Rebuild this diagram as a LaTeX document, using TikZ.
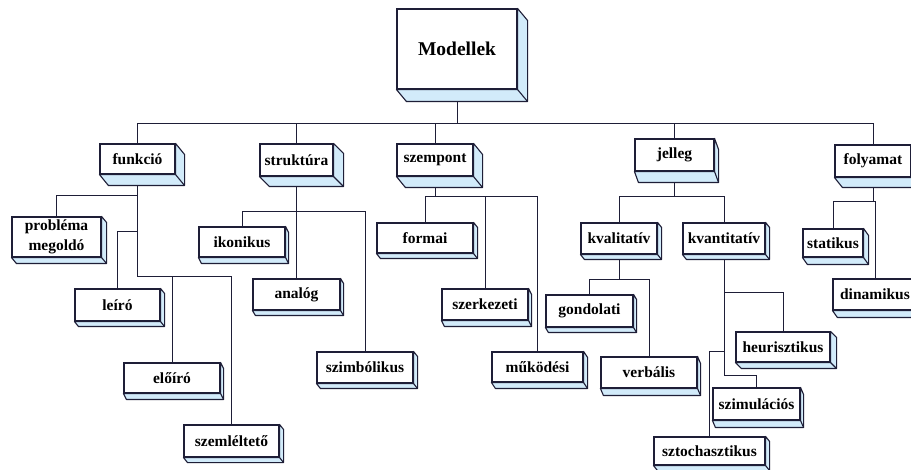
\documentclass[tikz,border=0pt]{standalone}
\usepackage{fontspec}
\setmainfont{Liberation Serif}
\usetikzlibrary{calc}
\pgfdeclarelayer{paper}
\pgfdeclarelayer{background}
\pgfsetlayers{paper,background,main}
\definecolor{edgec}{RGB}{30,30,55}
\definecolor{sidec}{RGB}{210,235,250}
\tikzset{
  box/.style={draw=edgec, line width=1.1pt, fill=white, inner sep=0pt, text=black,
    font=\bfseries\fontsize{15.5}{20}\selectfont, align=center},
  face/.style={fill=sidec, draw=edgec, line width=1.1pt, line join=round},
  link/.style={draw=edgec, line width=1pt}
}
% name, x1, y1, x2, y2, dx, dy, text
\newcommand\bx[8]{%
  \pgfmathsetmacro\bxw{#4-#2}%
  \pgfmathsetmacro\bxh{#5-#3}%
  \pgfmathsetmacro\bxcx{(#2+#4)/2}%
  \pgfmathsetmacro\bxcy{(#3+#5)/2}%
  \node[box, minimum width=\bxw pt, minimum height=\bxh pt] (#1) at (\bxcx,\bxcy) {#8};
  \filldraw[face] (#1.south west) -- ($(#1.south west)+(#6,#7)$) -- ($(#1.south east)+(#6,#7)$)
    -- ($(#1.north east)+(#6,#7)$) -- (#1.north east) -- (#1.south east) -- cycle;
  \draw[face, fill=none] (#1.south east) -- +(#6,#7);
}
\begin{document}
\begin{tikzpicture}[x=1pt, y=-1pt]
\useasboundingbox (0,0) rectangle (911,470);
\clip (0,0) rectangle (911,470);
\begin{pgfonlayer}{paper}
\fill[white] (0,0) rectangle (911,470);
\end{pgfonlayer}

\bx{M}{397}{9}{517}{89}{10}{12}{\fontsize{19.5}{22}\selectfont Modellek}
\bx{funk}{100}{144}{175}{174}{9}{11}{funkció}
\bx{struk}{260}{144}{333}{176}{10}{10}{struktúra}
\bx{szemp}{397}{144}{473}{176}{9}{11}{szempont}
\bx{jelleg}{635}{139}{714}{171}{4}{11}{jelleg}
\bx{foly}{835}{145}{911}{177}{8}{10}{folyamat}

\bx{prob}{12}{217}{101}{257}{5}{6}{probléma\\megoldó}
\bx{leiro}{75}{289}{160}{321}{4}{5}{leíró}
\bx{elo}{124}{363}{220}{393}{3}{6}{előíró}
\bx{szeml}{184}{425}{279}{457}{4}{5}{szemléltető}

\bx{ikon}{199}{227}{285}{257}{3}{6}{ikonikus}
\bx{anal}{253}{279}{340}{310}{3}{5}{analóg}
\bx{szimb}{317}{352}{413}{383}{4}{5}{szimbólikus}

\bx{formai}{377}{223}{473}{253}{4}{5}{formai}
\bx{szerk}{442}{289}{528}{320}{3}{6}{szerkezeti}
\bx{muk}{492}{352}{583}{382}{4}{6}{működési}

\bx{kval}{581}{223}{657}{254}{4}{5}{kvalitatív}
\bx{kvant}{683}{223}{765}{254}{4}{5}{kvantitatív}
\bx{gond}{546}{295}{633}{327}{3}{5}{gondolati}
\bx{verb}{601}{357}{697}{388}{3}{7}{verbális}
\bx{heur}{736}{332}{830}{362}{6}{6}{heurisztikus}
\bx{szimul}{713}{388}{800}{420}{3}{7}{szimulációs}
\bx{sztoch}{654}{437}{765}{465}{4}{5}{sztochasztikus}

\bx{stat}{803}{229}{863}{257}{5}{7}{statikus}
\bx{dinam}{833}{279}{917}{310}{5}{7}{dinamikus}

\coordinate (j0) at (M.south |- 0,124);
\coordinate (jf1) at (funk.south |- 0,196);
\coordinate (jf2) at (funk.south |- 0,232);
\coordinate (jf3) at (funk.south |- 0,277);
\coordinate (js) at (struk.south |- 0,212);
\coordinate (jz) at (szemp.south |- 0,197);
\coordinate (jj) at (jelleg.south |- 0,197);
\coordinate (jk) at (kval.south |- 0,280);
\coordinate (jq1) at (kvant.south |- 0,293);
\coordinate (jq2) at (kvant.south |- 0,352);
\coordinate (jq3) at (kvant.south |- 0,376);
\coordinate (jy) at (foly.south |- 0,202);

\begin{pgfonlayer}{background}
\draw[link] (M.south) -- (j0);
\foreach \n in {funk,struk,szemp,jelleg,foly} \draw[link] (\n.north) |- (j0);
\draw[link] (funk.south) -- (jf3);
\draw[link] (prob.north) |- (jf1);
\draw[link] (leiro.north) |- (jf2);
\draw[link] (elo.north) |- (jf3);
\draw[link] (szeml.north) |- (jf3);
\draw[link] (struk.south) -- (anal.north);
\draw[link] (ikon.north) |- (js);
\draw[link] (szimb.north) |- (js);
\draw[link] (szemp.south) -- (jz);
\draw[link] (formai.north) |- (jz);
\draw[link] (szerk.north) |- (jz);
\draw[link] (muk.north) |- (jz);
\draw[link] (jelleg.south) -- (jj);
\draw[link] (kval.north) |- (jj);
\draw[link] (kvant.north) |- (jj);
\draw[link] (kval.south) -- (jk);
\draw[link] (gond.north) |- (jk);
\draw[link] (verb.north) |- (jk);
\draw[link] (kvant.south) -- (jq3);
\draw[link] (heur.north) |- (jq1);
\draw[link] (sztoch.north) |- (jq2);
\draw[link] (szimul.north) |- (jq3);
\draw[link] (foly.south) -- (jy);
\draw[link] (stat.north) |- (jy);
\draw[link] (dinam.north) |- (jy);
\end{pgfonlayer}
\end{tikzpicture}
\end{document}
